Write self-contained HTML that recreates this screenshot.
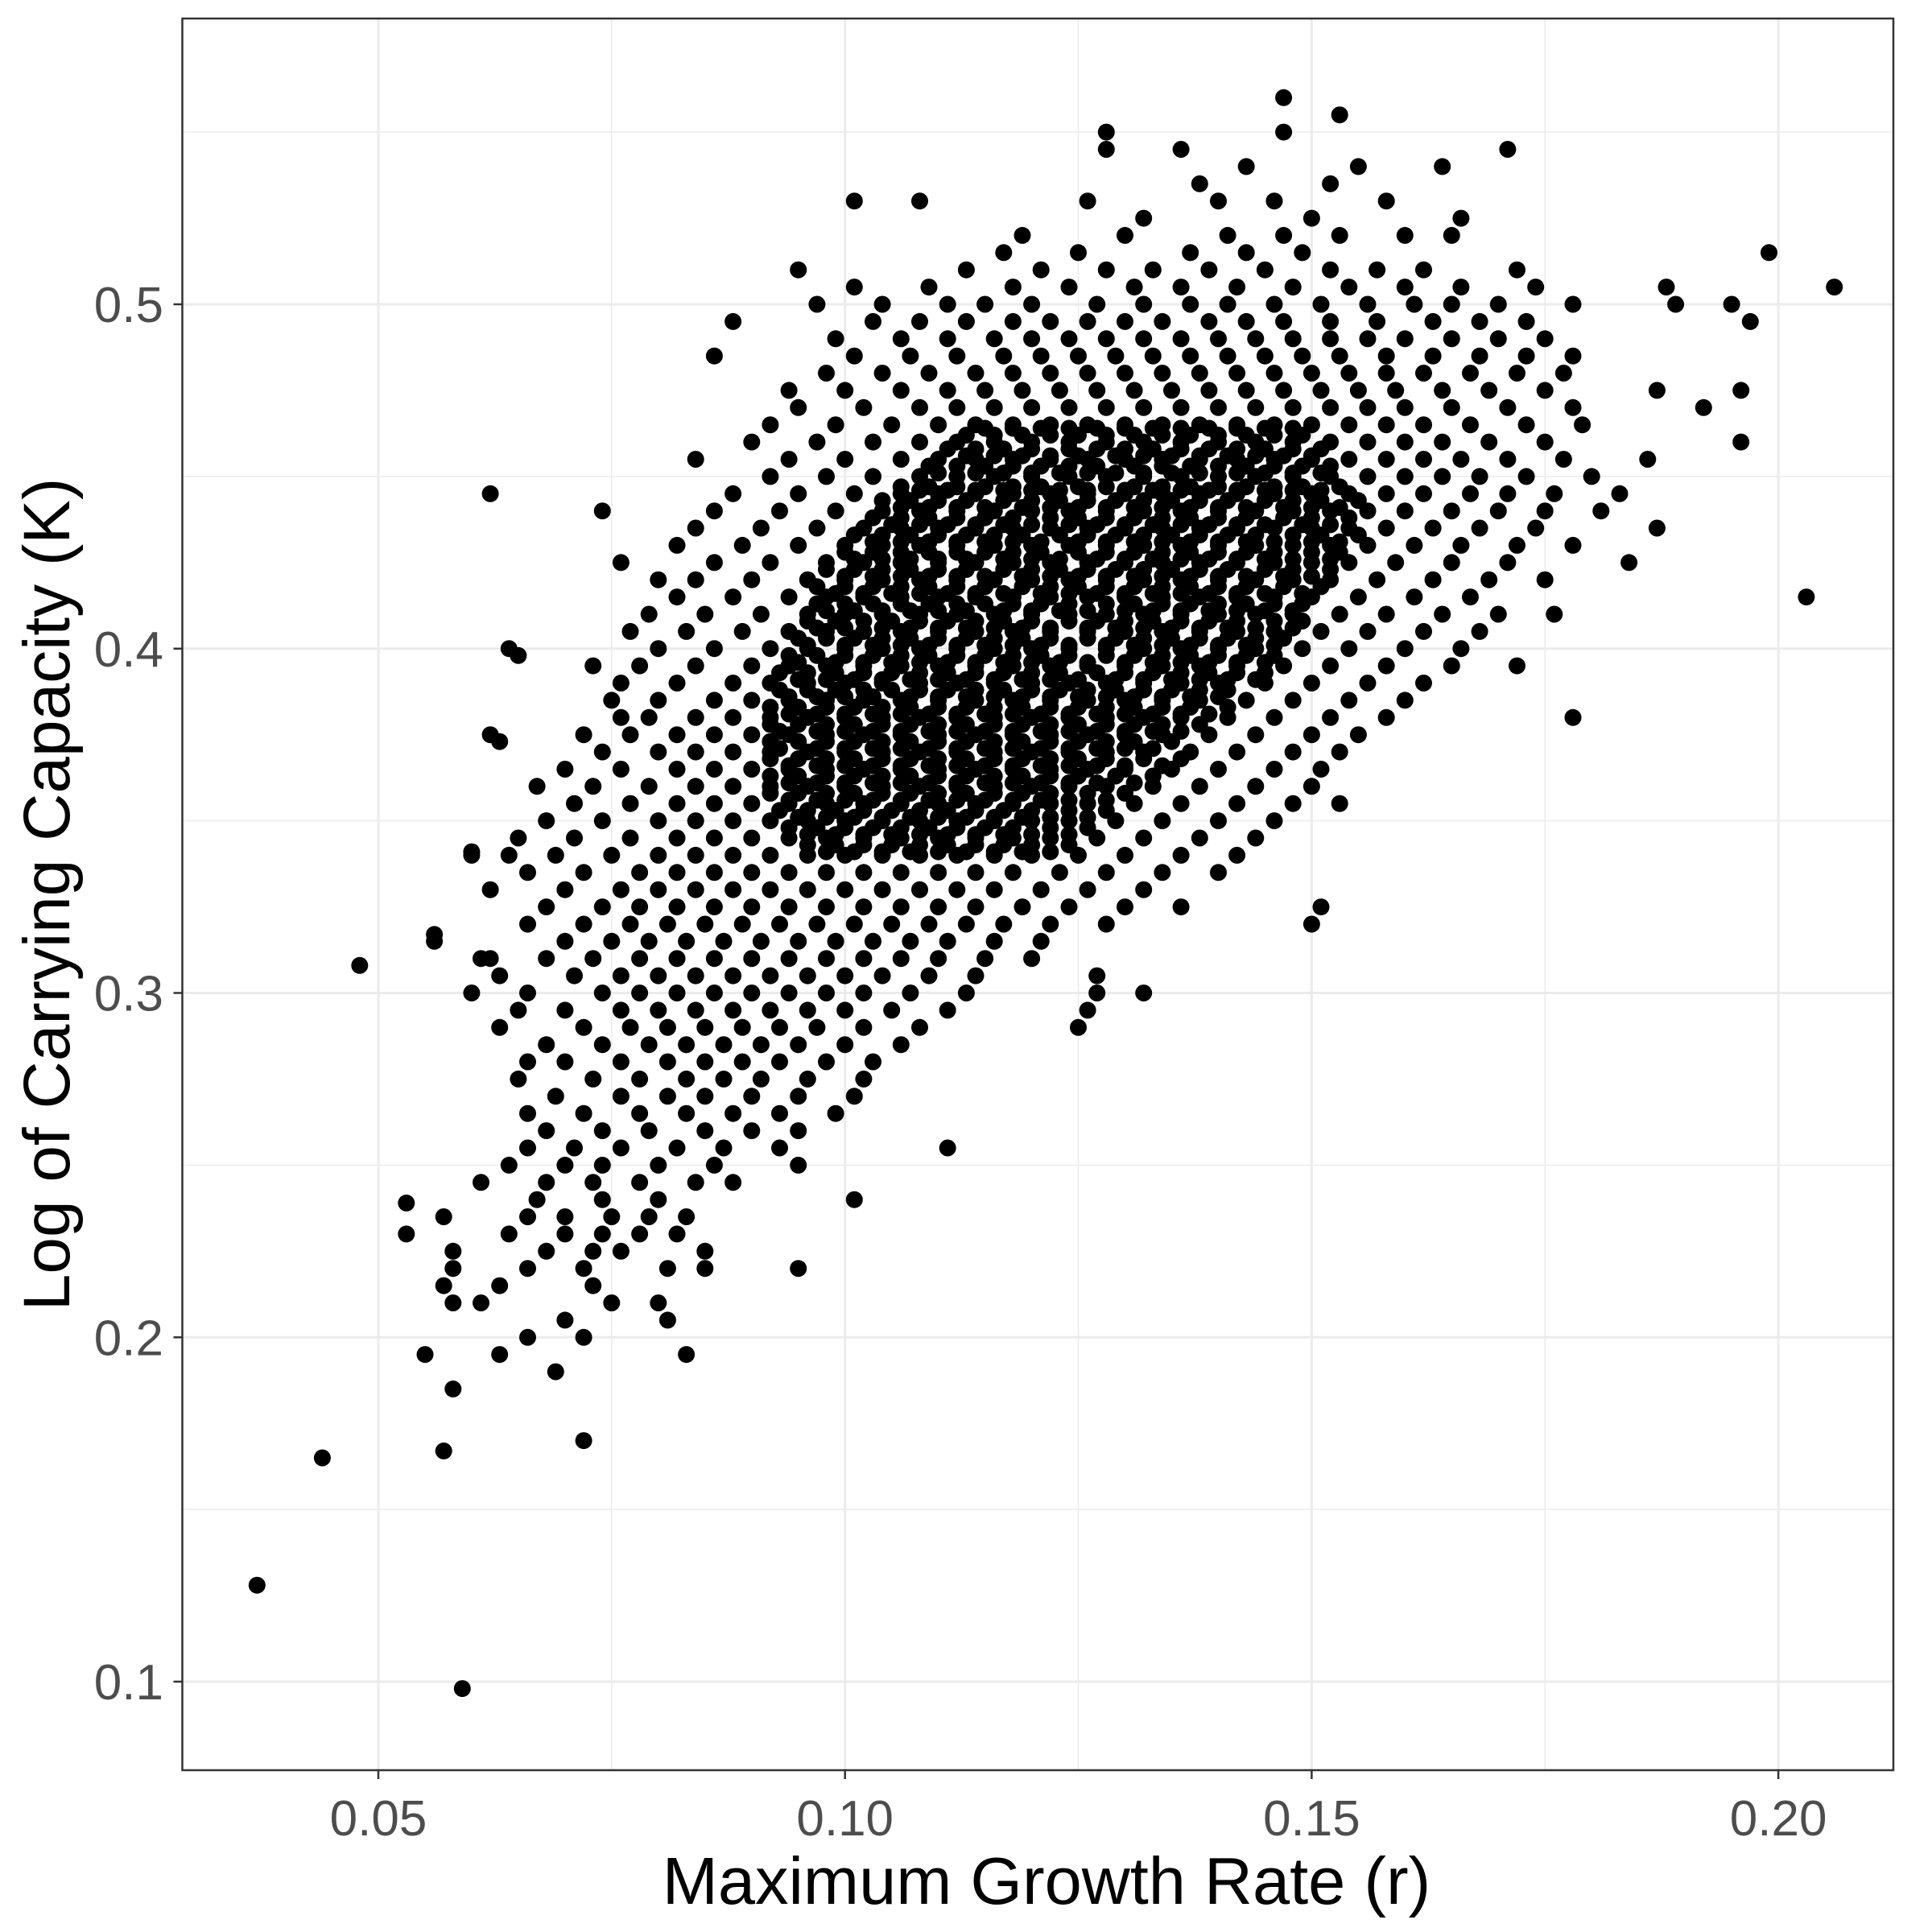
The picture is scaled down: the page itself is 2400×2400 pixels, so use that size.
<!DOCTYPE html>
<html><head><meta charset="utf-8"><style>html,body{margin:0;padding:0;background:#fff}svg{display:block}</style></head>
<body>
<svg id="chart" width="2400" height="2400" viewBox="0 0 2400 2400" xmlns="http://www.w3.org/2000/svg" font-family="Liberation Sans, Arial, sans-serif">
<rect x="0" y="0" width="2400" height="2400" fill="#fff"/>
<g id="grid"></g>
<g id="pts"></g>
<rect x="226.5" y="23" width="2125.5" height="2176" fill="none" stroke="#333" stroke-width="2.5"/>
<g id="axes"></g>
<text x="1300" y="2365" text-anchor="middle" font-size="83" fill="#000">Maximum Growth Rate (r)</text>
<text transform="translate(86,1111) rotate(-90)" text-anchor="middle" font-size="82" fill="#000">Log of Carrying Capacity (K)</text>
</svg>
<script>
const xTicks = [0.05, 0.10, 0.15, 0.20];
const xTickLabels = ["0.05", "0.10", "0.15", "0.20"];
const xMinor = [0.075, 0.125, 0.175];
const yTicks = [0.1, 0.2, 0.3, 0.4, 0.5];
const yTickLabels = ["0.1", "0.2", "0.3", "0.4", "0.5"];
const yMinor = [0.15, 0.25, 0.35, 0.45, 0.55];
// rows: [y*1000, x*1000 values]
const rows = [
[560,[147]],[555,[153]],[550,[128,147]],[545,[128,136,171]],[540,[143,155,164]],[535,[138,152]],
[530,[101,108,126,140,146,158]],[525,[132,150,166]],[520,[119,130,141,147,153,160,165]],[515,[117,125,137,143,149,199]],
[510,[95,113,121,128,133,139,145,152,157,162,172]],
[505,[101,109,118,124,131,136,142,148,154,160,166,174,188,206]],
[500,[97,104,111,115,120,127,132,137,141,146,151,156,161,165,170,178,189,195]],
[495,[88,103,108,113,118,122,126,130,134,139,143,147,152,157,163,168,173,197]],
[490,[99,106,111,116,120,124,128,132,136,140,144,148,152,156,160,165,170,175]],
[485,[86,101,107,112,117,121,125,129,133,137,141,145,149,153,158,163,168,173,178]],
[480,[98,104,109,114,118,122,126,130,134,138,142,146,150,154,158,162,167,172,177]],
[475,[94,100,106,111,115,119,123,127,131,135,139,143,147,151,155,159,164,169,175,187,196]],
[470,[95,102,108,112,116,120,124,128,132,136,140,144,148,152,156,160,165,171,178,192]],
[465,[92,99,105,110,114,118,122,126,130,134,138,142,146,150,154,158,162,167,173,179]],
[460,[90,97,103,108,112,116,120,124,128,132,136,140,144,148,152,156,160,164,169,175,196]],
[455,[84,94,100,106,110,114,118,122,126,130,134,138,142,146,150,154,158,162,166,171,177,186]],
[450,[92,98,103,108,112,116,120,124,128,132,136,140,144,148,152,156,160,164,168,173,180]],
[445,[62,88,95,101,106,110,114,118,122,126,130,134,138,142,146,150,154,158,162,167,171,176,183]],
[440,[74,86,93,99,104,108,112,116,120,124,128,132,136,140,144,148,152,156,160,165,170,175,181]],
[435,[84,91,97,102,106,110,114,118,122,126,130,134,138,142,146,150,154,158,163,168,174,187]],
[430,[82,89,95,100,104,108,112,116,120,124,128,132,136,140,144,148,152,156,161,166,172,178]],
[425,[76,86,92,98,102,106,110,114,118,122,126,130,134,138,142,146,150,154,159,165,171,184]],
[420,[80,84,90,96,100,104,108,112,116,120,124,128,132,136,140,144,148,152,157,163,169,175]],
[415,[82,88,94,98,102,106,110,114,118,122,126,130,134,138,142,146,150,155,161,167,203]],
[410,[79,85,91,96,100,104,108,112,116,120,124,128,132,136,140,144,148,153,158,164,170,176]],
[405,[77,83,89,94,98,102,106,110,114,118,122,126,130,134,138,142,146,151,156,162,168]],
[400,[64,80,86,92,96,100,104,108,112,116,120,124,128,132,136,140,144,149,154,160,166]],
[395,[73,78,84,90,94,98,102,106,110,114,118,122,126,130,134,138,142,147,152,158,165,172]],
[390,[76,82,88,92,96,100,104,108,112,116,120,124,128,132,136,140,145,150,156,162]],
[385,[75,80,86,90,94,98,102,106,110,114,118,122,126,130,134,138,143,148,154,160]],
[380,[76,79,84,88,92,96,100,104,108,112,116,120,124,128,132,136,141,146,152,158,178]],
[375,[62,72,77,82,86,90,94,98,102,106,110,114,118,122,126,130,134,139,144,150,155]],
[370,[74,80,84,88,92,96,100,104,108,112,116,120,124,128,132,137,142,148,153]],
[365,[70,76,82,86,90,94,98,102,106,110,114,118,122,126,130,135,140,146,151]],
[360,[67,73,79,84,88,92,96,100,104,108,112,116,120,124,128,133,138,144,150]],
[355,[71,77,82,86,90,94,98,102,106,110,114,118,122,126,131,136,142,148,153]],
[350,[68,74,80,84,88,92,96,100,104,108,112,116,120,124,129,134,140,146]],
[345,[65,71,77,82,86,90,94,98,102,106,110,114,118,122,127,132,138,144]],
[340,[60,64,69,75,80,84,88,92,96,100,104,108,112,116,120,125,130,136,142]],
[335,[66,72,78,82,86,90,94,98,102,106,110,114,118,123,128,134,140]],
[330,[62,70,76,80,84,88,92,96,100,104,108,112,116,121,126,132]],
[325,[68,74,78,82,86,90,94,98,102,106,110,114,119,124,130,136,151]],
[320,[66,72,77,81,85,89,93,97,101,105,109,113,117,122,128,150]],
[315,[56,70,75,79,83,87,91,95,99,103,107,111,116,121]],
[310,[61,68,73,78,82,86,90,94,98,102,106,110,115,120]],
[308,[48]],
[305,[63,71,76,80,84,88,92,96,100,104,109,114,127]],
[300,[60,66,74,78,82,86,90,94,98,102,107,113,127,132]],
[295,[65,70,76,80,84,88,92,96,100,105,111,126]],
[290,[63,72,77,81,85,89,93,97,102,108,125]],
[285,[68,74,79,83,87,91,95,100,106]],
[280,[66,70,76,81,85,89,93,98,103]],
[275,[65,73,78,83,87,91,96,102]],
[270,[69,76,81,85,90,95,101]],
[265,[66,72,78,83,88,93,99]],
[260,[68,74,79,85,90,95]],
[255,[66,71,76,82,87,93,111]],
[250,[64,70,74,80,86,95]],
[245,[61,68,73,78,84,88]],
[240,[67,74,80,101]],
[235,[57,66,70,75,79,83]],
[230,[53,64,70,74,78,82]],
[225,[58,68,73,76,85]],
[220,[58,66,72,81,85,95]],
[215,[57,63,73]],
[210,[58,61,75,80]],
[205,[70,81]],
[200,[66,72]],
[195,[55,63,83]],
[190,[69]],[185,[58]],[170,[72]],[167,[57]],[165,[44]],[128,[37]],[98,[59]]
];
const coreRows = [
[462,"113 116 119 122 125 128 131 134 137 140 143 146 149"],
[458,"111 114 117 120 124 127 130 133 136 139 142 145 148 151"],
[453,"109 112 115 118 121 124 127 131 134 137 140 143 146 149 152"],
[447,"106 109 112 115 118 121 125 128 131 134 137 140 143 146 149 153"],
[443,"104 107 110 113 117 120 123 126 129 132 135 138 141 145 148 151 155"],
[438,"103 106 109 112 115 118 122 125 128 131 134 137 140 143 147 150 154"],
[433,"101 104 107 110 113 116 119 123 126 129 132 135 138 141 144 148 151 155"],
[428,"100 103 106 109 112 115 118 121 125 128 131 134 137 140 143 146 150 153"],
[423,"98 101 104 107 110 113 117 120 123 126 129 132 135 138 141 145 148 152"],
[418,"97 100 103 106 109 112 115 119 122 125 128 131 134 137 140 143 147 151"],
[413,"97 100 103 106 109 112 115 118 121 124 128 131 134 137 140 143 146 149"],
[408,"96 99 102 105 108 111 114 117 120 124 127 130 133 136 139 142 146 149"],
[403,"95 98 101 104 107 110 113 116 119 122 126 129 132 135 138 141 144 147"],
[398,"94 97 100 103 106 109 112 115 118 121 124 128 131 134 137 140 143 146"],
[393,"93 96 99 102 105 108 111 114 117 120 123 127 130 133 136 139 142 145"],
[388,"93 96 99 102 105 108 111 114 117 120 123 126 129 132 135 138 141"],
[383,"92 95 98 101 104 107 110 113 116 119 122 125 128 131 134 137 141"],
[378,"92 95 98 101 104 107 110 113 116 119 122 125 128 131 134 138"],
[373,"92 95 98 101 104 107 110 113 116 119 122 125 128 131 135"],
[368,"92 95 98 101 104 107 110 113 116 119 122 125 128 132 136"],
[363,"92 95 98 101 104 107 110 113 116 119 122 125 129 133"],
[358,"92 95 98 101 104 107 110 113 116 119 122 126 130"],
[353,"93 96 99 102 105 108 111 114 117 120 124 128"],
[348,"94 97 100 103 106 109 112 115 118 122 126"],
[343,"96 99 102 105 108 111 114 117 120 124"]
];
const coreRows2 = [
[464,"115 118 121 124 127 130 133 136 139 142 145 148"],
[456,"113 116 119 122 125 129 132 135 138 141 144 147 150"],
[451,"110 114 117 120 123 126 129 132 135 138 142 145 148 151"],
[446,"108 111 114 117 120 123 126 130 133 136 139 142 145 148 151"],
[441,"106 109 112 115 119 122 125 128 131 134 137 140 143 147 150 153"],
[436,"105 108 111 114 117 120 124 127 130 133 136 139 142 145 149 152"],
[431,"103 106 109 112 115 118 121 125 128 131 134 137 140 143 146 150 153"],
[426,"101 104 107 110 113 117 120 123 127 130 133 136 139 142 145 148 152"],
[421,"100 103 106 109 112 115 119 122 125 128 131 134 137 140 143 147 150"],
[416,"99 102 105 108 111 114 117 121 124 127 130 133 136 139 142 145 149"],
[411,"98 101 104 107 110 113 117 120 123 126 130 133 136 139 142 145 148"],
[406,"97 100 104 107 110 113 116 119 122 126 129 132 135 138 141 144 148"],
[401,"96 100 103 106 109 112 115 118 121 124 128 131 134 137 140 143 146"],
[396,"95 99 102 105 108 111 114 117 120 123 126 130 133 136 139 142 145"],
[391,"95 98 101 104 107 110 113 116 119 122 125 129 132 135 138 141 144"],
[386,"94 97 100 103 107 110 113 116 119 122 125 128 131 134 137 140"],
[381,"94 97 100 103 106 109 112 115 118 121 124 127 130 133 136 139"],
[376,"93 97 100 103 106 109 112 115 118 121 124 127 130 133 136"],
[371,"93 97 100 103 106 109 112 115 118 121 124 127 130 133"],
[366,"94 97 100 103 106 109 112 115 118 121 124 127 130 134"],
[361,"94 97 100 103 106 109 112 115 118 121 124 127 131"],
[356,"94 97 100 103 106 109 112 115 118 121 124 128"],
[351,"95 98 101 104 107 110 113 116 119 122 126"],
[346,"96 99 102 105 108 111 114 117 120 124"],
[341,"98 101 104 107 110 113 116 119 122"]
];
const extraPts = [[65,398],[63,373],[56,317],[60,341],[62,310],[53,239]];

const X0 = 0.05, PX0 = 470, PXU = 11594;
const Y0 = 0.1, PY0 = 2089, PYU = 4277.5;
function sx(v){ return PX0 + (v - X0) * PXU; }
function sy(v){ return PY0 - (v - Y0) * PYU; }
const NS = "http://www.w3.org/2000/svg";
function mk(tag, attrs, parent){ const e = document.createElementNS(NS, tag); for (const k in attrs) e.setAttribute(k, attrs[k]); parent.appendChild(e); return e; }
const grid = document.getElementById('grid');
const axes = document.getElementById('axes');
const pts = document.getElementById('pts');
const L = 226.5, R = 2352, T = 23, B = 2199;
xMinor.forEach(v => { const l = mk('line', {x1:sx(v), x2:sx(v), y1:T, y2:B, stroke:'#EBEBEB', 'stroke-width':1.5}, grid);
  
   });
yMinor.forEach(v => { const l = mk('line', {x1:L, x2:R, y1:sy(v), y2:sy(v), stroke:'#EBEBEB', 'stroke-width':1.5}, grid);
  
   });
xTicks.forEach((v, i) => {
  const l = mk('line', {x1:sx(v), x2:sx(v), y1:T, y2:B, stroke:'#EBEBEB', 'stroke-width':3}, grid);
  
  
  const t = mk('line', {x1:sx(v), x2:sx(v), y1:B, y2:B+11, stroke:'#333', 'stroke-width':2.5}, axes);
  
  
  const tx = mk('text', {x:sx(v), y:2280, 'text-anchor':'middle', 'font-size':62, fill:'#4D4D4D'}, axes);
  tx.textContent = xTickLabels[i];
  
  
});
yTicks.forEach((v, i) => {
  const l = mk('line', {x1:L, x2:R, y1:sy(v), y2:sy(v), stroke:'#EBEBEB', 'stroke-width':3}, grid);
  
  
  const t = mk('line', {x1:L-11, x2:L, y1:sy(v), y2:sy(v), stroke:'#333', 'stroke-width':2.5}, axes);
  
  
  const tx = mk('text', {x:203, y:sy(v)+22, 'text-anchor':'end', 'font-size':62, fill:'#4D4D4D'}, axes);
  tx.textContent = yTickLabels[i];
  
  
});
function dot(x, y){
  const c = mk('circle', {cx:sx(x).toFixed(1), cy:sy(y).toFixed(1), r:10.5, fill:'#000'}, pts);
  
  
}
rows.forEach(r => r[1].forEach(x => dot(x/1000, r[0]/1000)));
coreRows.forEach(r => r[1].split(' ').forEach(x => dot(+x/1000, r[0]/1000)));
coreRows2.forEach(r => r[1].split(' ').forEach(x => dot(+x/1000, r[0]/1000)));
extraPts.forEach(p => dot(p[0]/1000, p[1]/1000));
</script>
</body></html>
